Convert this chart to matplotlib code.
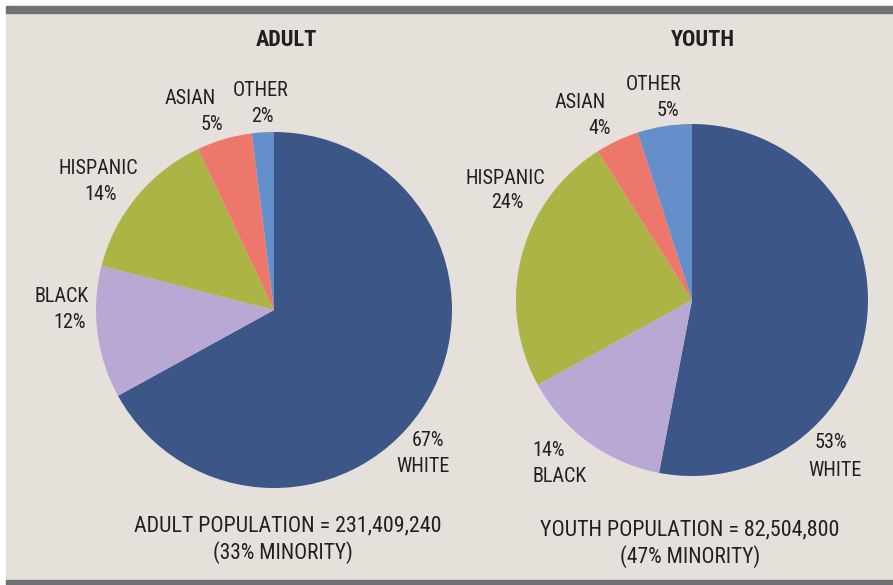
import matplotlib
matplotlib.use("Agg")
from matplotlib import pyplot as plt
from matplotlib import font_manager as fm
from matplotlib.patches import Rectangle

groups = ['WHITE', 'BLACK', 'HISPANIC', 'ASIAN', 'OTHER']
adult_pct = [67, 12, 14, 5, 2]
youth_pct = [53, 14, 24, 4, 5]
colors = ['#3b5687', '#b9a8d4', '#abb444', '#ee776c', '#648fcb']

adult_total = '231,409,240'
youth_total = '82,504,800'
adult_minority = 33
youth_minority = 47

# look for a condensed face, the reference uses a narrow grotesque
narrow = ('condensed', 'semi-condensed', 'extra-condensed', 'ultra-condensed')
cands = [f for f in fm.fontManager.ttflist
         if f.stretch in narrow or 'Narrow' in f.name or 'Condensed' in f.name]
order = ['Liberation Sans Narrow', 'Roboto Condensed', 'DejaVu Sans',
         'Noto Sans', 'Open Sans', 'Liberation Sans']
cands.sort(key=lambda f: order.index(f.name) if f.name in order else 99)

reg = None
bold = None
for f in cands:
    if f.style != 'normal':
        continue
    if reg is None and f.weight in (400, 'normal', 'regular'):
        reg = f
for f in cands:
    if reg is not None and f.name == reg.name and f.style == 'normal' \
            and f.weight in (700, 'bold') and bold is None:
        bold = f

if reg is not None:
    fp_reg = fm.FontProperties(fname=reg.fname)
    fp_bold = fm.FontProperties(fname=bold.fname) if bold else fm.FontProperties(fname=reg.fname, weight='bold')
    size = 14.5
else:
    fp_reg = fm.FontProperties(family='DejaVu Sans')
    fp_bold = fm.FontProperties(family='DejaVu Sans', weight='bold')
    size = 12.5

W, H = 893, 585
fig = plt.figure(figsize=(W / 100, H / 100), dpi=100)
ax = fig.add_axes([0, 0, 1, 1])

# background panel and grey bars
ax.add_patch(Rectangle((6, 5), W - 6, H - 18, color='#e6e0db', zorder=0))
ax.add_patch(Rectangle((6, H - 13), W - 6, 7, color='#6f7175', zorder=0))
ax.add_patch(Rectangle((6, 0), W - 6, 5, color='#6f7175', zorder=0))

# pies (y measured from bottom)
ax.pie(adult_pct, colors=colors, startangle=90, counterclock=False,
       center=(274, H - 310), radius=178, frame=True)
ax.pie(youth_pct, colors=colors, startangle=90, counterclock=False,
       center=(692, H - 300), radius=176, frame=True)

ax.set_xlim(0, W)
ax.set_ylim(0, H)
ax.set_aspect('auto')
ax.axis('off')


def lab(x, y, s, fp=None, fs=None):
    ax.text(x, H - y, s, fontproperties=fp or fp_reg, fontsize=fs or size,
            color='#231f20', ha='center', va='center')


lab(286, 40, 'ADULT', fp_bold, size + 1.5)
lab(703, 40, 'YOUTH', fp_bold, size + 1.5)

# adult labels
lab(190, 98, groups[3])
lab(212, 124, f'{adult_pct[3]}%')
lab(261, 90, groups[4])
lab(262, 116, f'{adult_pct[4]}%')
lab(98, 169, groups[2])
lab(101, 195, f'{adult_pct[2]}%')
lab(62, 296, groups[1])
lab(70, 323, f'{adult_pct[1]}%')
lab(428, 440, f'{adult_pct[0]}%')
lab(423, 467, groups[0])

# youth labels
lab(654, 85, groups[4])
lab(668, 110, f'{youth_pct[4]}%')
lab(580, 103, groups[3])
lab(600, 129, f'{youth_pct[3]}%')
lab(505, 178, groups[2])
lab(507, 203, f'{youth_pct[2]}%')
lab(549, 451, f'{youth_pct[1]}%')
lab(560, 477, groups[1])
lab(831, 442, f'{youth_pct[0]}%')
lab(835, 470, groups[0])

lab(288, 526, f'ADULT POPULATION = {adult_total}', fs=size + 1.3)
lab(283, 553, f'({adult_minority}% MINORITY)', fs=size + 1.0)
lab(690, 530, f'YOUTH POPULATION = {youth_total}', fs=size + 1.3)
lab(690, 557, f'({youth_minority}% MINORITY)', fs=size + 1.0)

fig.savefig('out.png', dpi=100, facecolor='white')
